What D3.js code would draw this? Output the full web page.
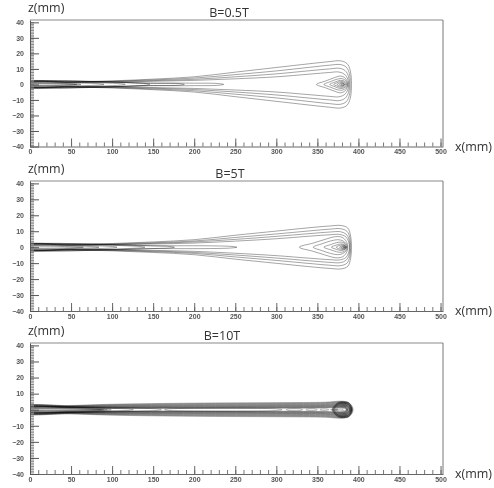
<!DOCTYPE html>
<html>
<head>
<meta charset="utf-8">
<script src="https://cdn.jsdelivr.net/npm/d3@7"></script>
<style>
  body { margin: 0; background: #fff; }
  svg { filter: grayscale(100%); }
  .tick-lbl { font-family: "Liberation Sans", Arial, sans-serif; font-size: 7px; font-weight: bold; fill: #555; }
  .unit  { font-family: "Open Sans", sans-serif; font-size: 12.5px; fill: #333; }
  .title { font-family: "Open Sans", sans-serif; font-size: 12.5px; fill: #333; }
  .contour { fill: none; stroke: #000; stroke-opacity: 0.45; stroke-width: 0.8; }
  .dense .contour { stroke-opacity: 0.3; stroke-width: 0.9; }
</style>
</head>
<body>
<script>
/**
 * Contour maps of the jet, three field strengths
 */
const W = 494, H = 488;

// Axes
const X_TICKS  = d3.range(0, 501, 50);
const X_MINOR  = d3.range(0, 501, 10);
const Z_TICKS  = d3.range(-40, 41, 10);
const Z_MINOR  = d3.range(-40, 41, 1);
const TITLES   = ["B=0.5T", "B=5T", "B=10T"];

// Contours: upper half [x(mm), z(mm)], mirrored about z=0
const contours05T = [
  [[-10,1.45],[50,1.7],[100,2.3],[150,3.4],[200,4.9],[250,7.9],[300,10.9],[340,13.3],[365,14.7],[378,15.2],[386,13.5],[390,9],[391.5,0]],
  [[-10,1.3],[50,1.5],[100,2.0],[150,2.9],[200,4.1],[250,6.3],[300,8.7],[340,11.0],[365,12.4],[378,12.8],[385,11.2],[389,7],[390,0]],
  [[-10,1.15],[50,1.35],[100,1.75],[150,2.45],[200,3.3],[250,4.9],[300,6.8],[340,8.8],[365,10.0],[377,10.4],[384,8.8],[388,5],[389,0]],
  [[-10,1.0],[50,1.2],[100,1.5],[150,2.0],[200,2.6],[250,3.6],[300,4.9],[340,6.6],[365,7.7],[376,8.0],[383,6.6],[387,3.5],[388,0]],
  [[349,0],[360,2.2],[370,4.2],[378,5.4],[383,4.5],[386,2.3],[387,0]],
  [[358,0],[366,1.8],[373,3.2],[379,3.8],[383,3.1],[385.5,1.6],[386.5,0]],
  [[365,0],[371,1.4],[376,2.4],[380,2.6],[383.5,1.9],[385.5,0]],
  [[370,0],[374,1.1],[378,1.8],[382,1.6],[384.5,0]],
  [[374,0],[377,0.9],[380.5,1.2],[383.5,0]],
  [[377,0],[379,0.6],[381.5,0.7],[383,0]],
  [[379,0],[381,0.35],[382.5,0]],
  [[-10,0.88],[150,0.85],[200,0.8],[228,0.6],[236,0]],
  [[-10,0.75],[150,0.7],[182,0.5],[188,0]],
  [[-10,0.62],[140,0.58],[146,0]],
  [[-10,0.5],[110,0.48],[116,0]],
  [[-10,0.36],[86,0.35],[90,0]],
  [[-10,0.22],[60,0.2],[62,0]],
  [[-10,0.1],[55,0.1],[57,0]]
];

const contours5T = [
  [[-10,1.45],[50,1.7],[100,2.3],[150,3.3],[200,4.7],[250,7.5],[300,10.1],[340,12.2],[365,13.3],[379,13.6],[387,12],[390.5,7],[391.5,0]],
  [[-10,1.3],[50,1.5],[100,2.0],[150,2.8],[200,3.9],[250,6.1],[300,8.3],[340,10.2],[365,11.3],[378,11.6],[386,10],[389.5,6],[390.5,0]],
  [[-10,1.15],[50,1.35],[100,1.75],[150,2.4],[200,3.3],[250,4.9],[300,6.8],[340,8.5],[365,9.5],[378,9.7],[385,8.2],[388.5,5],[389.5,0]],
  [[-10,1.0],[50,1.2],[100,1.5],[150,2.0],[200,2.6],[250,3.8],[300,5.3],[340,6.9],[365,7.8],[377,8.0],[384.5,6.6],[388,3.5],[389,0]],
  [[328,0],[345,2.6],[360,5.0],[372,6.6],[380,6.2],[385,3.8],[387,0]],
  [[345,0],[356,2.2],[366,3.9],[375,4.7],[381,4.0],[385,2.2],[386.5,0]],
  [[358,0],[366,1.6],[373,2.8],[379,3.2],[383,2.5],[385.5,0]],
  [[367,0],[373,1.3],[378,2.0],[382,1.8],[385,0]],
  [[373,0],[377,1.1],[381,1.4],[384,0.9],[385,0]],
  [[377,0],[380,0.8],[383,0.9],[384.5,0]],
  [[379,0],[381.5,0.5],[384,0]],
  [[381,0],[382.5,0.25],[383.8,0]],
  [[-10,0.88],[150,0.88],[220,0.85],[245,0.5],[252,0]],
  [[-10,0.74],[160,0.7],[170,0.45],[176,0]],
  [[-10,0.6],[130,0.56],[140,0]],
  [[-10,0.46],[100,0.44],[106,0]],
  [[-10,0.3],[80,0.28],[84,0]],
  [[-10,0.14],[62,0.13],[65,0]]
];

const contours10T = [
  [[-10,1.9],[50,2.6],[100,3.4],[200,4.1],[300,4.4],[360,4.7],[380,5.3],[388,4.5],[392.5,2],[393.5,0]],
  [[-10,1.8],[50,2.45],[100,3.15],[200,3.8],[300,4.1],[360,4.4],[380,5.0],[388,4.2],[392,1.9],[393,0]],
  [[-10,1.7],[50,2.3],[100,2.9],[200,3.5],[300,3.8],[360,4.1],[380,4.7],[387.5,3.9],[391.5,1.8],[392.5,0]],
  [[-10,1.6],[50,2.1],[100,2.65],[200,3.2],[300,3.5],[360,3.8],[380,4.4],[387,3.6],[391,1.7],[392,0]],
  [[-10,1.5],[50,1.95],[100,2.4],[200,2.9],[300,3.2],[360,3.5],[380,4.1],[386.5,3.4],[390.5,1.6],[391.5,0]],
  [[-10,1.4],[50,1.8],[100,2.2],[200,2.6],[300,2.9],[360,3.2],[380,3.8],[386.5,3.2],[390,1.4],[391,0]],
  [[-10,1.3],[50,1.65],[100,2.0],[200,2.35],[300,2.6],[360,2.9],[380,3.5],[386,2.9],[389.5,1.3],[390.5,0]],
  [[-10,1.2],[50,1.5],[100,1.8],[200,2.1],[300,2.35],[360,2.65],[380,3.2],[386,2.7],[389,1.2],[390,0]],
  [[-10,1.1],[50,1.35],[100,1.6],[200,1.85],[300,2.1],[360,2.4],[379,2.9],[385.5,2.4],[388.5,1.1],[389.5,0]],
  [[-10,1.0],[50,1.2],[100,1.4],[200,1.6],[300,1.85],[360,2.1],[379,2.6],[385.5,2.1],[388,1.0],[389,0]],
  [[-10,0.9],[100,1.25],[200,1.4],[300,1.6],[360,1.85],[378,2.3],[385,1.9],[387,0]],
  [[-10,0.8],[100,1.1],[200,1.2],[300,1.38],[360,1.6],[378,2.0],[384.5,1.6],[386.5,0]],
  [[-10,0.7],[100,0.95],[200,1.02],[300,1.15],[360,1.35],[378,1.7],[384.5,1.3],[386,0]],
  [[-10,0.6],[100,0.8],[200,0.85],[300,0.92],[360,1.1],[377,1.4],[384,1.05],[385.5,0]],
  [[-10,0.5],[152,0.55],[160,0]],
  [[-10,0.4],[120,0.42],[126,0]],
  [[-10,0.3],[95,0.3],[99,0]],
  [[-10,0.2],[92,0.2],[94,0]],
  [[-10,0.1],[88,0.1],[90,0]],
  [[-10,0.05],[85,0.05],[87,0]],
  [[164,0],[170,0.5],[300,0.5],[307,0]],
  [[312,0],[314,0.4],[330,0.4],[332,0]],
  [[336,0],[338,0.4],[348,0.4],[350,0]],
  [[353,0],[355,0.35],[362,0.35],[364,0]],
  [[366,0],[368,0.3],[373,0.3],[375,0]],
  [[368,0],[375,4.4],[382,5.0],[389,4.0],[392,0]],
  [[368.5,0],[375,4.2],[382,4.8],[389,3.85],[391.8,0]],
  [[369,0],[375.5,4.0],[382,4.6],[388.5,3.7],[391.5,0]],
  [[369.5,0],[375.5,3.8],[382,4.4],[388.5,3.5],[391.2,0]],
  [[370,0],[376,3.6],[382,4.2],[388,3.3],[391,0]],
  [[370.5,0],[376,3.4],[382,4.0],[388,3.15],[390.5,0]],
  [[371,0],[376.5,3.2],[382,3.8],[387.5,3.0],[390,0]],
  [[372,0],[377,2.8],[382,3.4],[387,2.6],[389.5,0]],
  [[373,0],[377.5,2.4],[382,3.0],[386.5,2.3],[389,0]],
  [[374,0],[378,2.0],[382.5,2.6],[386.5,1.9],[388,0]],
  [[375.5,0],[378.5,1.6],[382.5,2.2],[386,1.6],[387.5,0]],
  [[377,0],[379.5,1.2],[383,1.7],[385.5,1.2],[386.5,0]],
  [[378.5,0],[380.5,0.8],[383,1.2],[385,0.8],[386,0]],
  [[380,0],[382,0.5],[384,0.6],[385,0]]
];

const CONTOURS = [contours05T, contours5T, contours10T];

// Layout
const LEFT = 30, RIGHT = 443;
const TOPS    = [20, 181, 343];
const BOTTOMS = [146.5, 311, 474];
const TITLE_X = [229, 230, 222];

var svg = d3.select("body").append("svg")
    .attr("width", W)
    .attr("height", H);
var defs = svg.append("defs");

const mirror = upper => upper.concat(
  upper.filter(p => p[1] > 0).reverse().map(p => [p[0], -p[1]])
);

CONTOURS.forEach((contours, i) => {
  const top = TOPS[i], bottom = BOTTOMS[i];

  const x = d3.scaleLinear().domain([0, 503]).range([LEFT, RIGHT]);
  const y = d3.scaleLinear().domain([-40, 41.5]).range([bottom, top]);

  const g = svg.append("g");

  defs.append("clipPath")
    .attr("id", `clip-${i}`)
    .append("rect")
      .attr("x", LEFT)
      .attr("y", top)
      .attr("width", RIGHT - LEFT)
      .attr("height", bottom - top);

  // Contour lines
  const line = d3.line()
    .x(d => x(d[0]))
    .y(d => y(d[1]))
    .curve(d3.curveCatmullRomClosed.alpha(0.5));

  g.append("g")
    .attr("clip-path", `url(#clip-${i})`)
    .classed("dense", i === 2)
    .selectAll("path")
    .data(contours)
    .join("path")
      .attr("class", "contour")
      .attr("d", c => line(mirror(c)));

  // Frame: top and right
  g.append("line")
    .attr("x1", LEFT).attr("x2", RIGHT)
    .attr("y1", top).attr("y2", top)
    .attr("stroke", "#c4c4c4")
    .attr("stroke-width", 2);
  g.append("line")
    .attr("x1", RIGHT).attr("x2", RIGHT)
    .attr("y1", top).attr("y2", bottom)
    .attr("stroke", "#777");

  // x axis, ticks pointing up
  g.append("g")
    .attr("transform", `translate(0, ${bottom})`)
    .attr("color", "#777")
    .call(d3.axisBottom(x).tickValues(X_MINOR).tickSizeInner(-4).tickSizeOuter(0).tickFormat(""))
    .call(g => g.select(".domain").remove());
  g.append("g")
    .attr("transform", `translate(0, ${bottom})`)
    .attr("color", "#666")
    .call(d3.axisBottom(x).tickValues(X_TICKS).tickSizeInner(-8).tickSizeOuter(0).tickPadding(3))
    .call(g => g.selectAll("text").attr("class", "tick-lbl"));

  // z axis, ticks pointing right
  g.append("g")
    .attr("transform", `translate(${LEFT}, 0)`)
    .attr("color", "#888")
    .call(d3.axisLeft(y).tickValues(Z_MINOR).tickSizeInner(-4).tickSizeOuter(0).tickFormat(""))
    .call(g => g.select(".domain").remove());
  g.append("g")
    .attr("transform", `translate(${LEFT}, 0)`)
    .attr("color", "#555")
    .call(d3.axisLeft(y).tickValues(Z_TICKS).tickSizeInner(-9).tickSizeOuter(0).tickPadding(6))
    .call(g => g.selectAll("text").attr("class", "tick-lbl"));

  // Labels
  g.append("text")
    .attr("class", "unit")
    .attr("x", 28)
    .attr("y", top - 8)
    .text("z(mm)");
  g.append("text")
    .attr("class", "title")
    .attr("x", TITLE_X[i])
    .attr("y", top - 3)
    .attr("text-anchor", "middle")
    .text(TITLES[i]);
  g.append("text")
    .attr("class", "unit")
    .attr("x", 455)
    .attr("y", bottom + 4)
    .text("x(mm)");
});
</script>
</body>
</html>
